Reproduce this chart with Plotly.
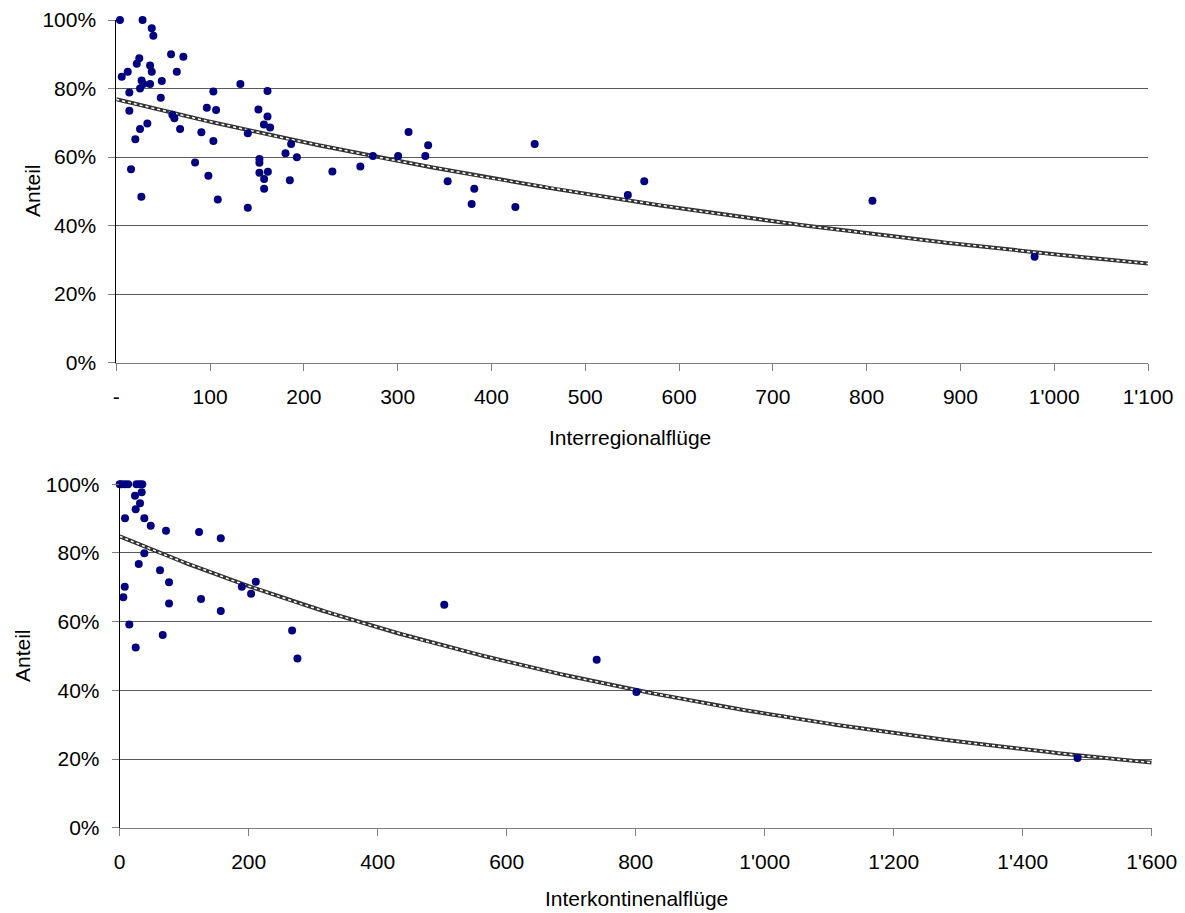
import numpy as np
import plotly.graph_objects as go

# ---- Data: Interregionalflüge (top) ----
ir_x = [3.9, 28, 37.8, 39.5, 58.4, 71.5, 24.5, 21.8, 36, 37.8, 64.5, 12.2, 5.8, 48.5, 27, 28.8,
        36, 25.3, 13.9, 47.4, 13.9, 59.8, 61.9, 33.1, 25.3, 68, 20.3, 15.7, 26.7, 103.5, 132.3,
        161.2, 96.5, 106.4, 151.5, 161.2, 157.4, 164, 90.7, 140.2, 103.5, 186.4, 180.4, 192.5,
        84, 152.6, 152.6, 98.2, 152.6, 161.6, 157.6, 185, 157.6, 108.2, 140.2,
        230.4, 260.2, 273.6, 300.5, 311.6, 332.5, 329.5, 353.3, 381.7, 378.9,
        425.5, 446.1, 545.4, 562.9, 806.2, 979.1]
ir_y = [1.0, 1.0, 0.976, 0.954, 0.90, 0.893, 0.888, 0.872, 0.867, 0.849, 0.849, 0.849, 0.834, 0.822,
        0.823, 0.813, 0.813, 0.80, 0.788, 0.773, 0.735, 0.723, 0.713, 0.698, 0.682, 0.682, 0.652,
        0.564, 0.484, 0.791, 0.813, 0.793, 0.744, 0.737, 0.739, 0.718, 0.695, 0.686, 0.672, 0.669,
        0.647, 0.638, 0.611, 0.599, 0.584, 0.594, 0.583, 0.545, 0.554, 0.557, 0.536, 0.532, 0.507,
        0.476, 0.452,
        0.558, 0.572, 0.603, 0.603, 0.673, 0.634, 0.603, 0.529, 0.507, 0.463,
        0.454, 0.638, 0.489, 0.529, 0.472, 0.309]

# ---- Data: Interkontinenalflüge (bottom) ----
ik_x = [0, 3, 8, 13, 26, 31, 35, 23.7, 34.1, 31.5, 24.8, 8.2, 38.2, 48.1, 71.8, 123, 156.7,
        38.2, 29.5, 62.5, 76.5, 7.8, 5.6, 76.5, 126.1, 156.7, 189.3, 211, 203.7, 14.9, 66.7,
        24.8, 267.3, 275.6, 503.2, 739.5, 801.1, 1485]
ik_y = [1.0, 1.0, 1.0, 1.0, 1.0, 1.0, 1.0, 0.967, 0.977, 0.945, 0.927, 0.901, 0.901, 0.879, 0.865,
        0.861, 0.843, 0.799, 0.768, 0.750, 0.715, 0.702, 0.671, 0.653, 0.666, 0.631, 0.702,
        0.716, 0.681, 0.592, 0.561, 0.525, 0.574, 0.493, 0.649, 0.489, 0.395, 0.203]

top_tickvals = [0, 100, 200, 300, 400, 500, 600, 700, 800, 900, 1000, 1100]
top_ticktext = ["-", "100", "200", "300", "400", "500", "600", "700", "800", "900", "1'000", "1'100"]
bot_tickvals = [0, 200, 400, 600, 800, 1000, 1200, 1400, 1600]
bot_ticktext = ["0", "200", "400", "600", "800", "1'000", "1'200", "1'400", "1'600"]
y_tickvals = [0, 0.2, 0.4, 0.6, 0.8, 1.0]


def exp_fit(x, y, xmax):
    x = np.asarray(x, float)
    y = np.asarray(y, float)
    b, lna = np.polyfit(x, np.log(y), 1)
    xs = np.linspace(0, xmax, 200)
    return xs, np.exp(lna) * np.exp(b * xs)


FONT = "Liberation Sans, Arial, sans-serif"
FS = 21
NAVY = "#000080"

fig = go.Figure()

for xs, ys, xmax, xa, ya in [(ir_x, ir_y, 1100, "x", "y"), (ik_x, ik_y, 1600, "x2", "y2")]:
    tx, ty = exp_fit(xs, ys, xmax)
    fig.add_trace(go.Scatter(x=tx, y=ty, mode="lines", xaxis=xa, yaxis=ya,
                             line=dict(color="#333333", width=4), hoverinfo="skip",
                             showlegend=False))
    fig.add_trace(go.Scatter(x=tx, y=ty, mode="lines", xaxis=xa, yaxis=ya,
                             line=dict(color="#ffffff", width=1.5, dash="3px,3px"), hoverinfo="skip",
                             showlegend=False))
    fig.add_trace(go.Scatter(x=xs, y=ys, mode="markers", xaxis=xa, yaxis=ya,
                             marker=dict(color=NAVY, size=8), cliponaxis=False,
                             showlegend=False))

W, H = 1185, 913
OFF = 8  # page offset of the plot div


def px(v):
    return (v - OFF) / W


def py(v):
    return 1 - (v - OFF) / H


xdom1 = [px(116.3), px(1148)]
xdom2 = [px(119.7), px(1151.7)]
ydom1 = [py(362.5), py(20)]
ydom2 = [py(827.7), py(484.3)]

common_x = dict(showgrid=False, zeroline=False, showline=True, linecolor="#808080", linewidth=1,
                ticks="outside", ticklen=7, tickcolor="#808080", tickmode="array",
                automargin=False,
                tickfont=dict(family=FONT, size=FS, color="#000"), ticklabelstandoff=8)
common_y = dict(showgrid=True, gridcolor="#5a5a5a", gridwidth=1, zeroline=False, showline=True,
                linecolor="#000", linewidth=1, ticks="outside", ticklen=7, tickcolor="#808080",
                tickmode="array", tickvals=y_tickvals, tickformat=".0%", range=[0, 1],
                automargin=False,
                tickfont=dict(family=FONT, size=FS, color="#000"), ticklabelstandoff=8)

ann = dict(xref="paper", yref="paper", showarrow=False, xanchor="center", yanchor="middle",
           font=dict(family=FONT, size=FS, color="#000"))

fig.update_layout(
    width=W, height=H, margin=dict(l=0, r=0, t=0, b=0, pad=0),
    plot_bgcolor="white", paper_bgcolor="white", showlegend=False,
    font=dict(family=FONT, size=FS, color="#000"),
    xaxis=dict(domain=xdom1, range=[0, 1100], tickvals=top_tickvals, ticktext=top_ticktext,
               anchor="y", **common_x),
    yaxis=dict(domain=ydom1, anchor="x", **common_y),
    xaxis2=dict(domain=xdom2, range=[0, 1600], tickvals=bot_tickvals, ticktext=bot_ticktext,
                anchor="y2", **common_x),
    yaxis2=dict(domain=ydom2, anchor="x2", **common_y),
    annotations=[
        dict(text="Interregionalflüge", x=px(630), y=py(437), **ann),
        dict(text="Interkontinenalflüge", x=px(636), y=py(898), **ann),
        dict(text="Anteil", x=px(33), y=py(191), textangle=-90, **ann),
        dict(text="Anteil", x=px(22), y=py(656), textangle=-90, **ann),
    ],
)

fig.write_html("out.html")
